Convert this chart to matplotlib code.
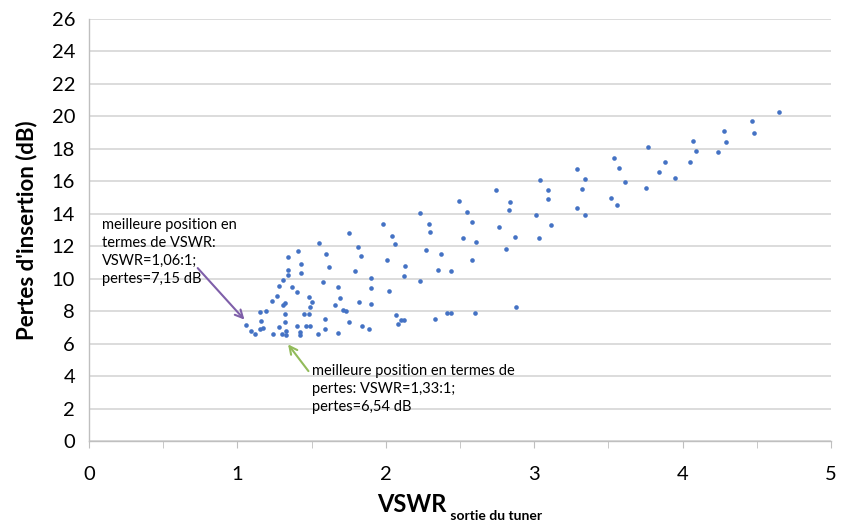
import matplotlib
matplotlib.use("Agg")
import matplotlib.pyplot as plt
from matplotlib.ticker import MultipleLocator

plt.rcParams['font.family'] = ['Lato', 'DejaVu Sans']

# measured tuner positions: output VSWR and insertion loss (dB)
vswr = [
    2.49, 2.55, 2.58, 2.52, 2.61, 2.58, 2.23, 2.29, 2.30, 2.27,
    2.37, 2.35, 2.44, 2.23, 1.98, 2.04, 2.06, 2.01, 2.13, 2.12,
    2.02, 1.75, 1.81, 1.83, 1.79, 1.90, 1.90, 1.82, 1.90, 1.55,
    1.60, 1.62, 1.58, 1.68, 1.69, 1.66, 1.71, 1.73, 1.75, 1.84,
    1.89, 1.59, 1.59, 1.41, 1.34, 1.43, 1.34, 1.34, 1.43, 1.31,
    1.37, 1.40, 1.48, 1.50, 1.49, 1.32, 1.31, 1.32, 1.45, 1.48,
    2.07, 2.08, 2.10, 2.12, 2.33, 2.41, 2.44, 2.60, 1.40, 1.46,
    1.49, 1.32, 3.77, 3.54, 3.57, 3.88, 3.84, 3.29, 3.34, 3.32,
    3.04, 3.09, 3.09, 2.74, 2.84, 2.83, 3.61, 3.52, 3.56, 3.75,
    3.29, 3.34, 3.01, 2.76, 3.11, 2.87, 3.03, 2.81, 2.88, 4.65,
    4.47, 4.48, 4.28, 4.29, 4.07, 4.09, 4.24, 4.05, 3.95, 1.06,
    1.09, 1.12, 1.15, 1.19, 1.16, 1.15, 1.17, 1.23, 1.27, 1.28,
    1.28, 1.24, 1.30, 1.33, 1.33, 1.42, 1.42, 1.54, 1.68,
]
pertes = [
    14.79, 14.13, 13.47, 12.51, 12.24, 11.17, 14.07, 13.37, 12.88, 11.75,
    11.50, 10.52, 10.46, 9.84, 13.35, 12.65, 12.12, 11.17, 10.76, 10.15,
    9.22, 12.83, 11.93, 11.42, 10.46, 10.04, 9.43, 8.58, 8.46, 12.20,
    11.50, 10.74, 9.78, 9.51, 8.79, 8.36, 8.09, 7.99, 7.35, 7.10,
    6.90, 7.54, 6.90, 11.69, 11.32, 10.91, 10.52, 10.21, 10.37, 9.90,
    9.47, 9.20, 8.85, 8.56, 8.24, 8.48, 8.38, 7.82, 7.82, 7.82,
    7.76, 7.21, 7.46, 7.46, 7.54, 7.87, 7.91, 7.87, 7.09, 7.10,
    7.10, 7.33, 18.11, 17.44, 16.80, 17.19, 16.57, 16.78, 16.12, 15.53,
    16.08, 15.47, 14.93, 15.48, 14.74, 14.21, 15.94, 14.99, 14.56, 15.59,
    14.34, 13.93, 13.94, 13.19, 13.29, 12.59, 12.51, 11.83, 8.26, 20.27,
    19.70, 18.98, 19.12, 18.40, 18.50, 17.85, 17.81, 17.21, 16.19, 7.15,
    6.78, 6.60, 7.93, 7.99, 7.38, 6.90, 6.94, 8.61, 8.95, 9.57,
    7.01, 6.58, 6.60, 6.54, 6.76, 6.72, 6.56, 6.60, 6.67,
]

best_vswr = (1.06, 7.15)
best_loss = (1.33, 6.54)

xticks = [0, 1, 2, 3, 4, 5]
yticks = list(range(0, 27, 2))

fig = plt.figure(figsize=(8.46, 5.27), dpi=100)
ax = fig.add_axes([0.1052, 0.1632, 0.8771, 0.8007])

ax.scatter(vswr, pertes, s=11, color='#4472C4', linewidths=0, zorder=3)

ax.set_xlim(0, 5)
ax.set_ylim(0, 26)
ax.set_xticks(xticks)
ax.set_yticks(yticks)
ax.xaxis.set_minor_locator(MultipleLocator(0.5))
ax.tick_params(axis='x', which='both', direction='out', length=5,
               color='#BFBFBF', labelsize=14.5, pad=13)
ax.tick_params(axis='y', length=0, labelsize=14.5, pad=10)

ax.grid(axis='y', color='#D9D9D9', linewidth=1.3, zorder=0)
ax.set_axisbelow(True)
for side in ('top', 'right'):
    ax.spines[side].set_visible(False)
for side in ('left', 'bottom'):
    ax.spines[side].set_color('#BFBFBF')
    ax.spines[side].set_linewidth(1.0)

ax.set_ylabel("Pertes d'insertion (dB)", fontsize=16, fontweight='bold',
              labelpad=10)

# x label with a bold subscript
t = fig.text(0.446, 0.028, 'VSWR', fontsize=17, fontweight='bold',
             ha='left', va='baseline')
ax.annotate(' sortie du tuner', xy=(1, 0), xycoords=t, xytext=(0, -3),
            textcoords='offset points', fontsize=10, fontweight='bold',
            ha='left', va='baseline')

ax.text(0.088, 13.74,
        "meilleure position en\ntermes de VSWR:\nVSWR=1,06:1;\npertes=7,15 dB",
        fontsize=10.5, linespacing=1.35, va='top', ha='left', zorder=4)
ax.annotate('', xy=(best_vswr[0], best_vswr[1] + 0.2), xytext=(0.72, 10.78),
            arrowprops=dict(arrowstyle='->', color='#7F5FA9', lw=1.5,
                            mutation_scale=14), zorder=4)

ax.text(1.503, 4.74,
        "meilleure position en termes de\npertes: VSWR=1,33:1;\npertes=6,54 dB",
        fontsize=10.5, linespacing=1.35, va='top', ha='left', zorder=4)
ax.annotate('', xy=(best_loss[0], best_loss[1] - 0.45), xytext=(1.49, 4.17),
            arrowprops=dict(arrowstyle='->', color='#92BB5A', lw=1.5,
                            mutation_scale=14), zorder=4)

fig.savefig('out.png', dpi=100)
